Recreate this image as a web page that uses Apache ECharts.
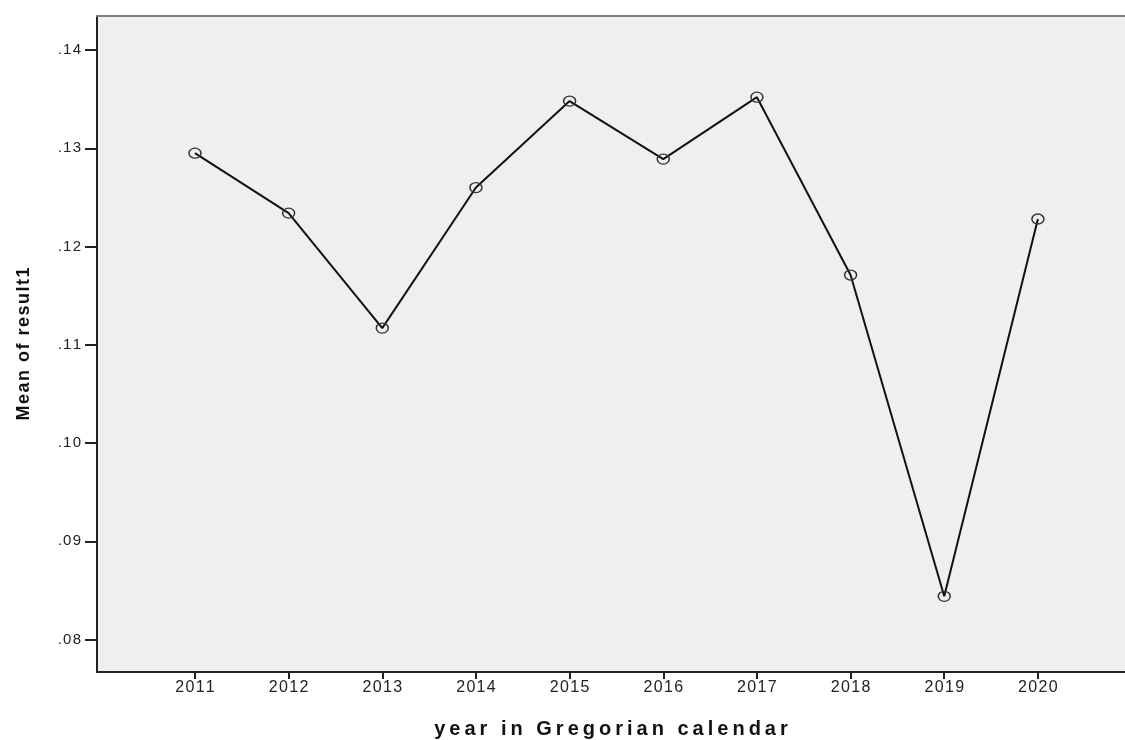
<!DOCTYPE html>
<html>
<head>
<meta charset="utf-8">
<script src="https://cdn.jsdelivr.net/npm/echarts@6/dist/echarts.min.js"></script>
<style>
html,body{margin:0;padding:0;background:#fff;}
#chart{width:1125px;height:740px;}
</style>
</head>
<body>
<div id="chart"></div>
<script>
const years = [2011, 2012, 2013, 2014, 2015, 2016, 2017, 2018, 2019, 2020];
const means = [0.1295, 0.1234, 0.1117, 0.1260, 0.1348, 0.1289, 0.1352, 0.1171, 0.0844, 0.1228];
const yTicks = [0.08, 0.09, 0.10, 0.11, 0.12, 0.13, 0.14];
const xTitle = 'year in Gregorian calendar';
const yTitle = 'Mean of result1';

const spaced = (s, sp) => s.split('').join(sp);
const chart = echarts.init(document.getElementById('chart'), null, {renderer: 'canvas'});
const fontFamily = '"Liberation Sans", Arial, sans-serif';
chart.setOption({
  animation: false,
  backgroundColor: '#ffffff',
  grid: {left: 97, right: 0, top: 16, bottom: 68, show: true, backgroundColor: '#efefef', borderWidth: 0,
    containLabel: false, outerBoundsMode: 'none'},
  xAxis: [{
    type: 'value',
    min: 2009.954,
    max: 2020.93,
    splitLine: {show: false},
    axisLine: {show: true, onZero: false, lineStyle: {color: '#222', width: 2}},
    axisTick: {show: true, customValues: years, length: 7, lineStyle: {color: '#222', width: 2}},
    axisLabel: {customValues: years, color: '#222', fontSize: 16, fontFamily: fontFamily, margin: 8,
      formatter: v => spaced(String(v), '\u200A')},
    name: spaced(xTitle, '\u2009'),
    nameLocation: 'middle',
    nameGap: 47,
    nameTextStyle: {color: '#111', fontSize: 20, fontWeight: 'bold', fontFamily: fontFamily}
  }, {
    type: 'value',
    position: 'top',
    min: 2009.954,
    max: 2020.93,
    splitLine: {show: false},
    axisLine: {show: true, onZero: false, lineStyle: {color: '#808080', width: 2}},
    axisTick: {show: false},
    axisLabel: {show: false}
  }],
  yAxis: {
    type: 'value',
    min: 0.0767,
    max: 0.14346,
    splitLine: {show: false},
    axisLine: {show: true, onZero: false, lineStyle: {color: '#222', width: 2}},
    axisTick: {show: true, customValues: yTicks, length: 12, lineStyle: {color: '#222', width: 2}},
    axisLabel: {customValues: yTicks, color: '#222', fontSize: 15, fontFamily: fontFamily, margin: 16,
      formatter: v => spaced(v.toFixed(2).replace(/^0/, ''), '\u200A')},
    name: spaced(yTitle, '\u200A'),
    nameLocation: 'middle',
    nameGap: 64,
    nameRotate: 90,
    nameTextStyle: {color: '#111', fontSize: 18, fontWeight: 'bold', fontFamily: fontFamily}
  },
  series: [{
    type: 'line',
    xAxisIndex: 0,
    data: years.map((y, i) => [y, means[i]]),
    lineStyle: {color: '#111', width: 2},
    symbol: 'circle',
    symbolSize: [12, 10],
    itemStyle: {color: 'rgba(0,0,0,0)', borderColor: '#333', borderWidth: 1.4},
    z: 3
  }]
});
</script>
</body>
</html>
